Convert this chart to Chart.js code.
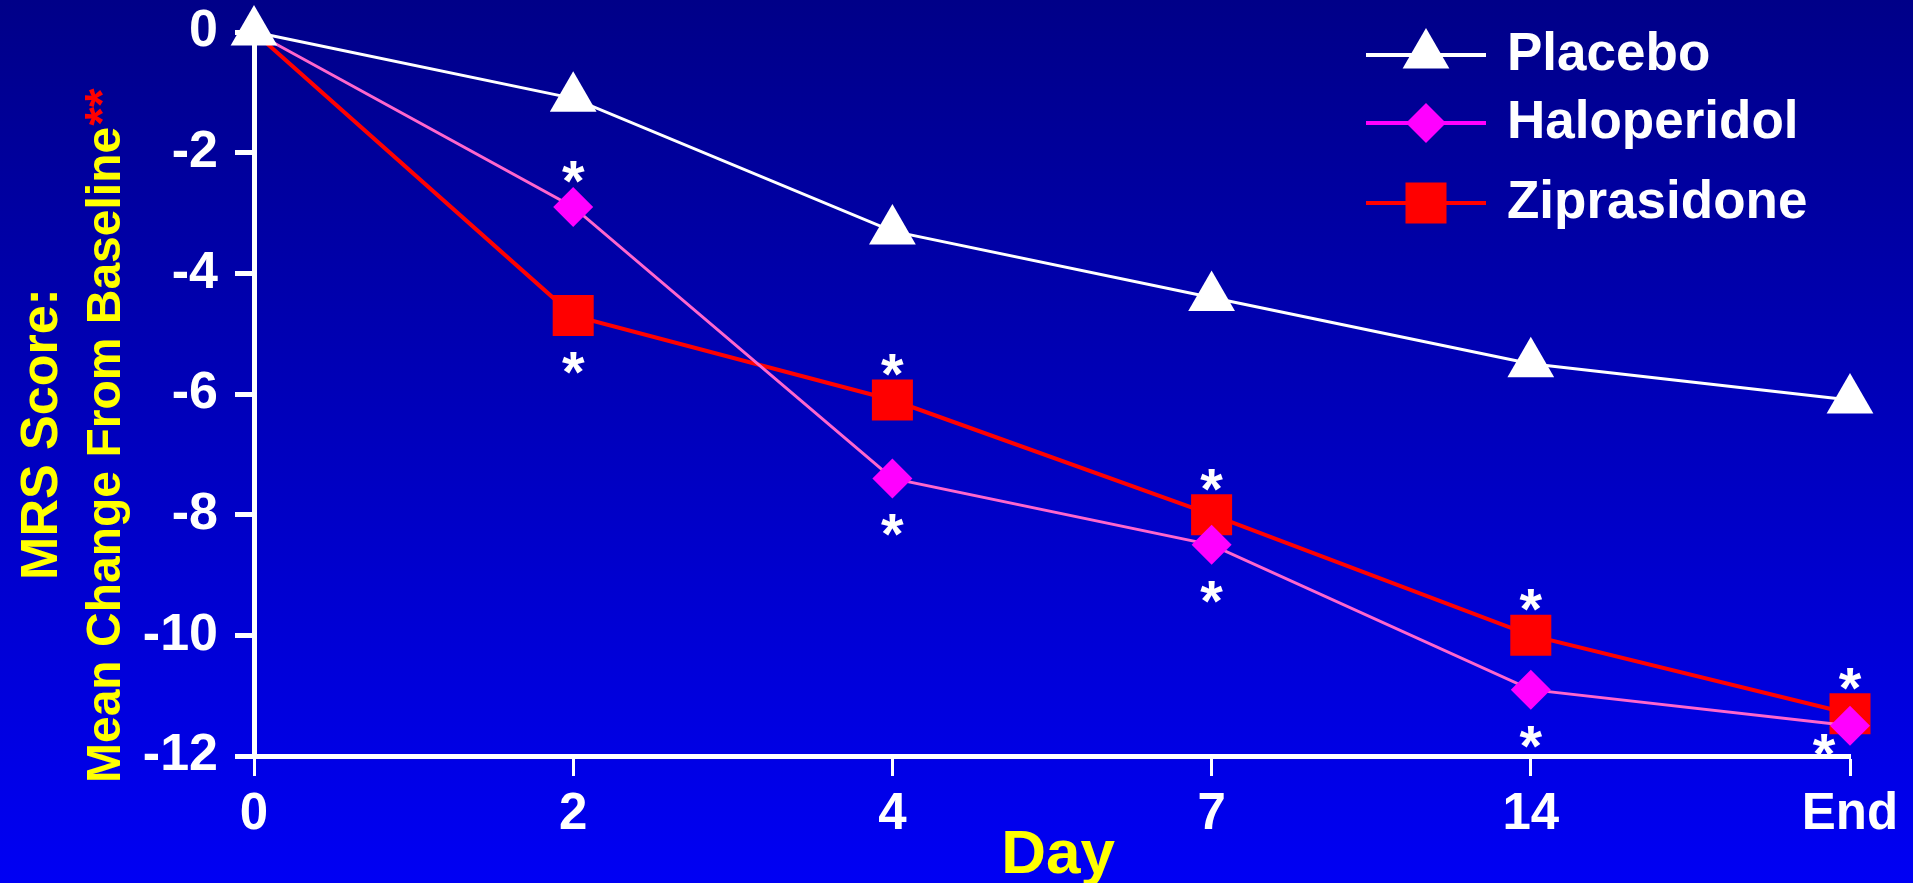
<!DOCTYPE html>
<html>
<head>
<meta charset="utf-8">
<title>MRS Score: Mean Change From Baseline</title>
<script src="https://cdn.jsdelivr.net/npm/chart.js@4.4.1/dist/chart.umd.min.js"></script>
<style>
  html, body { margin: 0; padding: 0; }
  body {
    width: 1913px;
    height: 883px;
    overflow: hidden;
    background: linear-gradient(to bottom, #000088 0%, #0000f4 100%);
  }
  #wrap { position: relative; width: 1913px; height: 883px; }
</style>
</head>
<body>
<div id="wrap"><canvas id="mrsChart"></canvas></div>
<script>
// Data
const days = ['0', '2', '4', '7', '14', 'End'];
const placebo = [0, -1.1, -3.3, -4.4, -5.5, -6.1];
const haloperidol = [0, -2.9, -7.4, -8.5, -10.9, -11.5];
const ziprasidone = [0, -4.7, -6.1, -8.0, -10.0, -11.3];
const yTicks = [0, -2, -4, -6, -8, -10, -12];

// where the significance asterisk sits for each point (null = none)
const haloStars = [null, 'above', 'below', 'below', 'below', 'belowLeft'];
const zipStars = [null, 'below', 'above', 'above', 'above', 'above'];

const FONT = '"Liberation Sans", Arial, sans-serif';

// only placebo shows a marker at baseline
const hideBaseline = size => ctx => (ctx.dataIndex === 0 ? 0 : size);

// Asterisks next to the markers
const starPlugin = {
  id: 'stars',
  afterDatasetsDraw(chart) {
    const ctx = chart.ctx;
    ctx.save();
    ctx.fillStyle = '#fff';
    ctx.font = 'bold 58px ' + FONT;
    ctx.textAlign = 'center';
    ctx.textBaseline = 'alphabetic';
    [[1, haloStars], [2, zipStars]].forEach(([idx, stars]) => {
      chart.getDatasetMeta(idx).data.forEach((pt, i) => {
        const pos = stars[i];
        if (!pos) return;
        let dx = 0;
        let dy = pos === 'above' ? -38 : 44;
        if (pos === 'belowLeft') { dx = -26; dy = 16; }
        ctx.fillText('*', pt.x + dx, pt.y + dy + 32);
      });
    });
    ctx.restore();
  }
};

// Legend in the top right corner, line through marker
const legendPlugin = {
  id: 'sideLegend',
  afterDraw(chart) {
    const ctx = chart.ctx;
    const rows = [55, 123, 203];
    chart.data.datasets.forEach((ds, i) => {
      const y = rows[i];
      ctx.save();
      ctx.strokeStyle = ds.legendColor;
      ctx.lineWidth = 4;
      ctx.beginPath();
      ctx.moveTo(1366, y);
      ctx.lineTo(1486, y);
      ctx.stroke();
      ctx.fillStyle = ds.pointBackgroundColor;
      Chart.helpers.drawPoint(ctx, {
        pointStyle: ds.pointStyle,
        radius: ds.legendRadius,
        rotation: 0,
        borderWidth: 0
      }, 1426, y);
      ctx.fillStyle = '#fff';
      ctx.font = 'bold 53px ' + FONT;
      ctx.textAlign = 'left';
      ctx.textBaseline = 'middle';
      ctx.fillText(ds.label, 1507, y);
      ctx.restore();
    });
  }
};

// Axis titles (the y title has a red superscript)
const axisTitlePlugin = {
  id: 'axisTitles',
  afterDraw(chart) {
    const ctx = chart.ctx;
    ctx.save();
    ctx.fillStyle = '#ffff00';
    ctx.font = 'bold 62px ' + FONT;
    ctx.textAlign = 'center';
    ctx.textBaseline = 'alphabetic';
    ctx.fillText('Day', 1058, 873);
    ctx.restore();

    ctx.save();
    ctx.translate(57, 434);
    ctx.rotate(-Math.PI / 2);
    ctx.fillStyle = '#ffff00';
    ctx.font = 'bold 52px ' + FONT;
    ctx.textAlign = 'center';
    ctx.textBaseline = 'alphabetic';
    ctx.fillText('MRS Score:', 0, 0);
    ctx.restore();

    ctx.save();
    ctx.translate(120, 783);
    ctx.rotate(-Math.PI / 2);
    ctx.font = 'bold 48px ' + FONT;
    ctx.textAlign = 'left';
    ctx.textBaseline = 'alphabetic';
    const main = 'Mean Change From Baseline';
    ctx.fillStyle = '#ffff00';
    ctx.fillText(main, 0, 0);
    const w = ctx.measureText(main).width;
    ctx.fillStyle = '#ff0000';
    ctx.fillText('**', w + 1, -2);
    ctx.restore();
  }
};

new Chart(document.getElementById('mrsChart'), {
  type: 'line',
  data: {
    labels: days,
    datasets: [
      {
        label: 'Placebo',
        data: placebo,
        borderColor: '#ffffff',
        borderWidth: 3,
        pointStyle: 'triangle',
        pointRadius: 27,
        pointHoverRadius: 27,
        legendRadius: 27,
        pointBackgroundColor: '#ffffff',
        pointBorderWidth: 0,
        legendColor: '#ffffff'
      },
      {
        label: 'Haloperidol',
        data: haloperidol,
        borderColor: '#ff66cc',
        borderWidth: 3,
        pointStyle: 'rectRot',
        pointRadius: hideBaseline(20),
        pointHoverRadius: hideBaseline(20),
        legendRadius: 20,
        pointBackgroundColor: '#ff00ff',
        pointBorderWidth: 0,
        legendColor: '#ff00ff'
      },
      {
        label: 'Ziprasidone',
        data: ziprasidone,
        borderColor: '#ff0000',
        borderWidth: 4,
        pointStyle: 'rect',
        pointRadius: hideBaseline(29),
        pointHoverRadius: hideBaseline(29),
        legendRadius: 29,
        pointBackgroundColor: '#ff0000',
        pointBorderWidth: 0,
        legendColor: '#ff0000'
      }
    ]
  },
  options: {
    responsive: true,
    maintainAspectRatio: false,
    animation: false,
    events: [],
    clip: false,
    layout: { padding: { left: 114, right: 63, top: 32, bottom: 0 } },
    elements: { line: { tension: 0 } },
    plugins: {
      legend: { display: false },
      tooltip: { enabled: false }
    },
    scales: {
      x: {
        type: 'category',
        offset: false,
        grid: {
          drawOnChartArea: false,
          color: '#ffffff',
          tickLength: 20,
          tickWidth: 3
        },
        border: { color: '#ffffff', width: 5 },
        ticks: {
          color: '#ffffff',
          font: { size: 51, weight: 'bold', family: FONT },
          padding: 8,
          maxRotation: 0,
          autoSkip: false
        },
        afterFit: s => {
          s.height = 127;
          s.paddingLeft = 0;
          s.paddingRight = 0;
        }
      },
      y: {
        min: -12,
        max: 0,
        afterBuildTicks: s => { s.ticks = yTicks.map(v => ({ value: v })); },
        grid: {
          drawOnChartArea: false,
          color: '#ffffff',
          tickLength: 19,
          tickWidth: 5
        },
        border: { color: '#ffffff', width: 5 },
        ticks: {
          color: '#ffffff',
          font: { size: 52, weight: 'bold', family: FONT },
          padding: 17
        },
        afterFit: s => {
          s.width = 140;
          s.paddingTop = 0;
          s.paddingBottom = 0;
        }
      }
    }
  },
  plugins: [starPlugin, legendPlugin, axisTitlePlugin]
});
</script>
</body>
</html>
